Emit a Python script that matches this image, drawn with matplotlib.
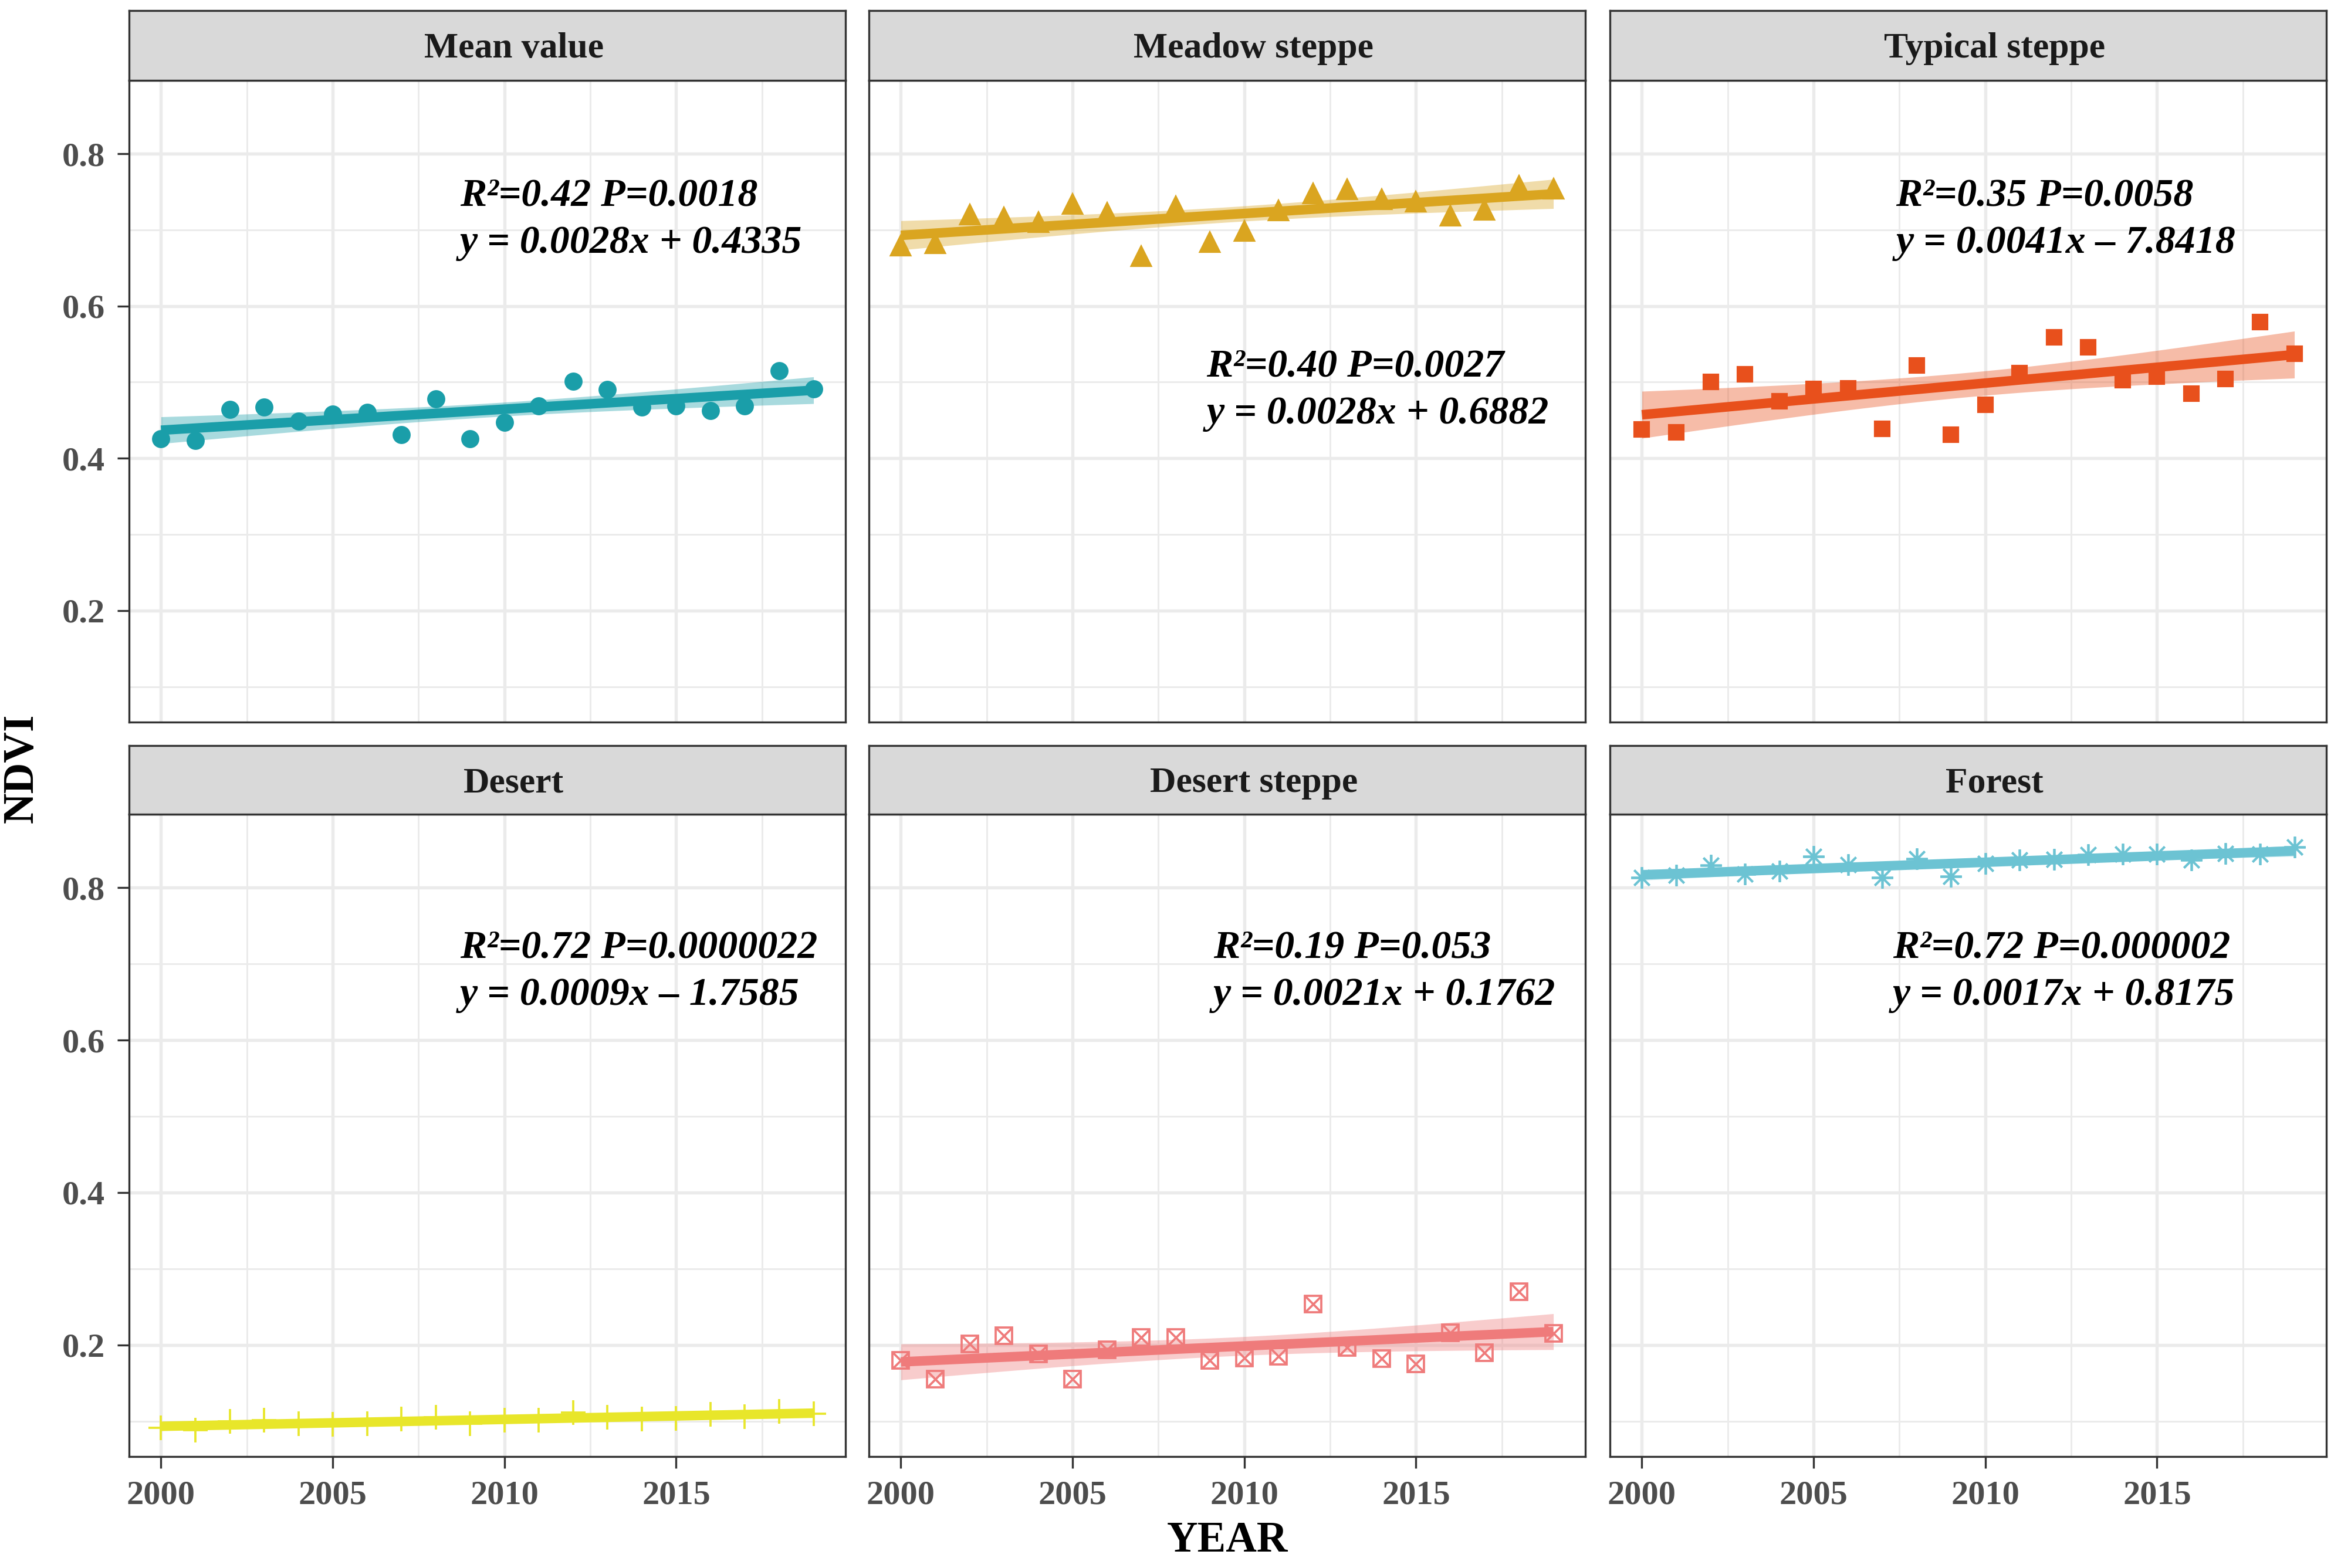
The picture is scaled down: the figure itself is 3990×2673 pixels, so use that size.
import numpy as np
import matplotlib
matplotlib.use("Agg")
import matplotlib.pyplot as plt

# ---------------- data ----------------
years = [2000, 2001, 2002, 2003, 2004, 2005, 2006, 2007, 2008, 2009,
         2010, 2011, 2012, 2013, 2014, 2015, 2016, 2017, 2018, 2019]

mean_value = [0.426, 0.423, 0.464, 0.467, 0.449, 0.458, 0.460, 0.431, 0.478, 0.426,
              0.447, 0.469, 0.501, 0.490, 0.467, 0.469, 0.463, 0.469, 0.515, 0.491]
meadow_steppe = [0.679, 0.682, 0.720, 0.716, 0.710, 0.734, 0.722, 0.665, 0.731, 0.684,
                 0.698, 0.725, 0.748, 0.753, 0.740, 0.737, 0.718, 0.726, 0.758, 0.754]
typical_steppe = [0.438, 0.434, 0.500, 0.510, 0.475, 0.491, 0.492, 0.439, 0.522, 0.431,
                  0.470, 0.512, 0.559, 0.546, 0.503, 0.507, 0.485, 0.504, 0.579, 0.537]
desert = [0.091, 0.088, 0.100, 0.101, 0.097, 0.096, 0.097, 0.103, 0.105, 0.097,
          0.101, 0.101, 0.111, 0.105, 0.103, 0.104, 0.109, 0.106, 0.113, 0.110]
desert_steppe = [0.180, 0.155, 0.201, 0.212, 0.188, 0.155, 0.194, 0.210, 0.210, 0.180,
                 0.183, 0.185, 0.254, 0.197, 0.182, 0.175, 0.216, 0.190, 0.270, 0.215]
forest = [0.813, 0.816, 0.829, 0.818, 0.822, 0.841, 0.830, 0.813, 0.838, 0.815,
          0.832, 0.836, 0.837, 0.843, 0.844, 0.844, 0.836, 0.845, 0.844, 0.853]

panel_titles = ["Mean value", "Meadow steppe", "Typical steppe",
                "Desert", "Desert steppe", "Forest"]
panel_values = [mean_value, meadow_steppe, typical_steppe,
                desert, desert_steppe, forest]
stat_labels = ["R\u00b2=0.42 P=0.0018", "R\u00b2=0.40 P=0.0027", "R\u00b2=0.35 P=0.0058",
               "R\u00b2=0.72 P=0.0000022", "R\u00b2=0.19 P=0.053", "R\u00b2=0.72 P=0.000002"]
eq_labels = ["y = 0.0028x + 0.4335", "y = 0.0028x + 0.6882", "y = 0.0041x \u2013 7.8418",
             "y = 0.0009x \u2013 1.7585", "y = 0.0021x + 0.1762", "y = 0.0017x + 0.8175"]

y_ticks = [0.2, 0.4, 0.6, 0.8]
y_tick_labels = ["0.2", "0.4", "0.6", "0.8"]
x_ticks = [2000, 2005, 2010, 2015]
x_tick_labels = ["2000", "2005", "2010", "2015"]

# ---------------- styling ----------------
colors = ["#1A9EA9", "#DAA520", "#E8501C", "#E8E62A", "#EF7B7B", "#6CC3D3"]
label_pos = [(2008.7, 0.731, 0.670), (2008.9, 0.507, 0.446), (2007.4, 0.731, 0.670),
             (2008.7, 0.707, 0.646), (2009.1, 0.707, 0.646), (2007.3, 0.707, 0.646)]

FONT = "Liberation Serif"
plt.rcParams["font.family"] = [FONT, "DejaVu Serif"]

W, H = 3990, 2673
DPI = 300
fig = plt.figure(figsize=(W / DPI, H / DPI), dpi=DPI)
fig.patch.set_facecolor("white")

col_left = [220, 1481, 2744]
col_w = 1221
row_panel = [(137, 1231), (1388, 2483)]
row_strip = [(18, 137), (1271, 1388)]

edge = "#333333"
grid_c = "#EBEBEB"
T975 = 2.1009  # t quantile, df = 18


def fx(px):
    return px / W


def fy(py):
    return 1 - py / H


def draw_markers(ax, i, x, y, c):
    if i == 0:
        ax.plot(x, y, "o", ms=6.4, color=c, mec=c, ls="none", zorder=4)
    elif i == 1:
        ax.plot(x, y, "^", ms=7.6, color=c, mec=c, ls="none", zorder=4)
    elif i == 2:
        ax.plot(x, y, "s", ms=5.6, color=c, mec=c, ls="none", zorder=4)
    elif i == 3:
        ax.plot(x, y, "+", ms=10, mew=0.9, color=c, ls="none", zorder=4)
    elif i == 4:
        ax.plot(x, y, "s", ms=6.6, mfc="none", mec=c, mew=0.9, ls="none", zorder=4)
        ax.plot(x, y, "x", ms=6.0, mec=c, mew=0.9, ls="none", zorder=4)
    else:
        ax.plot(x, y, marker=(8, 2, 0), ms=8.8, mec=c, mew=0.9, ls="none", zorder=4)


for i in range(6):
    r, cidx = divmod(i, 3)
    x0 = col_left[cidx]
    t, b = row_panel[r]
    ax = fig.add_axes([fx(x0), fy(b), fx(col_w), (b - t) / H])
    st, sb = row_strip[r]
    sax = fig.add_axes([fx(x0), fy(sb), fx(col_w), (sb - st) / H])

    # strip
    sax.set_facecolor("#D9D9D9")
    sax.set_xticks([])
    sax.set_yticks([])
    for s in sax.spines.values():
        s.set_color(edge)
        s.set_linewidth(0.8)
    sax.text(0.537, 0.45, panel_titles[i], transform=sax.transAxes, ha="center", va="center",
             fontsize=14.8, fontweight="bold", color="#1A1A1A", family=FONT)

    x = np.array(years, dtype=float)
    y = np.array(panel_values[i], dtype=float)
    c = colors[i]

    # linear fit with 95% confidence band
    slope, inter = np.polyfit(x, y, 1)
    n = len(x)
    resid = y - (slope * x + inter)
    s_err = np.sqrt(np.sum(resid ** 2) / (n - 2))
    xm = x.mean()
    sxx = np.sum((x - xm) ** 2)
    xg = np.linspace(x.min(), x.max(), 120)
    yg = slope * xg + inter
    se = s_err * np.sqrt(1.0 / n + (xg - xm) ** 2 / sxx)
    ax.fill_between(xg, yg - T975 * se, yg + T975 * se, color=c, alpha=0.38, lw=0, zorder=2)
    ax.plot(xg, yg, color=c, lw=3.9, solid_capstyle="butt", zorder=3)

    draw_markers(ax, i, x, y, c)

    lx, ly1, ly2 = label_pos[i]
    ax.text(lx, ly1, stat_labels[i], ha="left", va="baseline", fontsize=16.3,
            fontweight="bold", fontstyle="italic", color="black", family=FONT, zorder=5)
    ax.text(lx, ly2, eq_labels[i], ha="left", va="baseline", fontsize=16.3,
            fontweight="bold", fontstyle="italic", color="black", family=FONT, zorder=5)

    ax.set_xlim(1999.07, 2019.93)
    ax.set_ylim(0.0536, 0.8963)
    ax.set_xticks(x_ticks)
    ax.set_yticks(y_ticks)
    ax.set_xticks([2002.5, 2007.5, 2012.5, 2017.5], minor=True)
    ax.set_yticks([0.1, 0.3, 0.5, 0.7], minor=True)
    ax.grid(which="major", color=grid_c, lw=1.3, zorder=0)
    ax.grid(which="minor", color=grid_c, lw=0.7, zorder=0)
    ax.set_axisbelow(True)
    for s in ax.spines.values():
        s.set_color(edge)
        s.set_linewidth(0.8)
    ax.tick_params(which="minor", length=0)
    ax.tick_params(which="major", color=edge, width=0.8, length=4.8, pad=5)

    if cidx == 0:
        ax.set_yticklabels(y_tick_labels, fontsize=14, fontweight="bold",
                           color="#4D4D4D", family=FONT)
    else:
        ax.tick_params(axis="y", which="major", length=0, labelleft=False)
    if r == 1:
        ax.set_xticklabels(x_tick_labels, fontsize=14, fontweight="bold",
                           color="#4D4D4D", family=FONT)
    else:
        ax.tick_params(axis="x", which="major", length=0, labelbottom=False)

fig.text(fx(2092), fy(2627), "YEAR", ha="center", va="center", fontsize=17.5,
         fontweight="bold", color="black", family=FONT)
fig.text(fx(38), fy(1310), "NDVI", ha="center", va="center", rotation=90, fontsize=17.5,
         fontweight="bold", color="black", family=FONT)

fig.savefig("out.png", dpi=DPI, facecolor="white")
